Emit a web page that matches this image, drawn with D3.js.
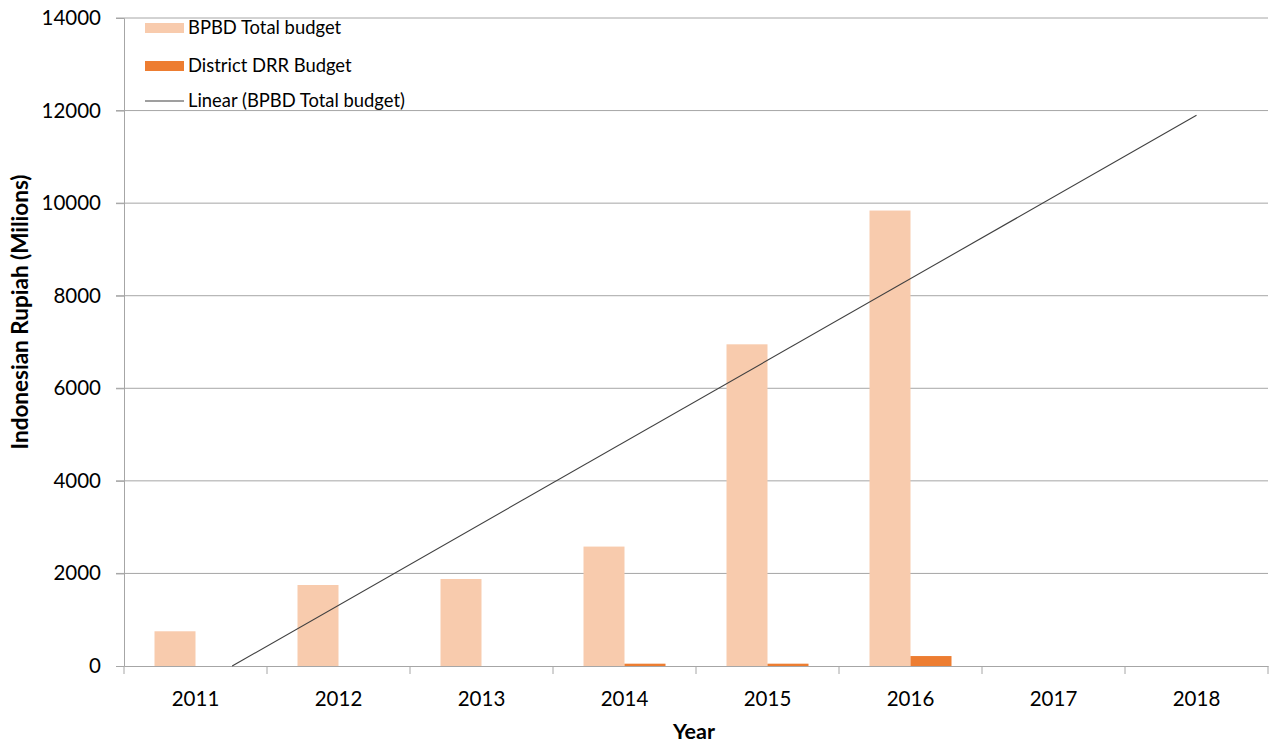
<!DOCTYPE html>
<html><head><meta charset="utf-8">
<script src="https://cdn.jsdelivr.net/npm/d3@7"></script>
<style>body{margin:0;background:#fff}svg{display:block}</style>
</head><body>
<svg id="c" width="1271" height="744"></svg>
<script>
const years = ["2011","2012","2013","2014","2015","2016","2017","2018"];
const bpbdTotal = [750, 1750, 1880, 2580, 6950, 9840, null, null];
const districtDRR = [null, null, null, 50, 50, 215, null, null];
const yTicks = [0, 2000, 4000, 6000, 8000, 10000, 12000, 14000];
const legendLabels = ["BPBD Total budget", "District DRR Budget", "Linear (BPBD Total budget)"];

const svg = d3.select("#c");
const font = "Lato, 'Open Sans', sans-serif";
const L = 124, R = 1268, T = 18, B = 666;
const x = d3.scaleBand().domain(years).range([L, R]);
const y = d3.scaleLinear().domain([0, 14000]).range([B, T]);
const bw = 41;

// gridlines
svg.append("g").selectAll("line").data(yTicks.filter(d => d > 0)).join("line")
  .attr("x1", L - 8).attr("x2", R).attr("y1", d => y(d)).attr("y2", d => y(d))
  .attr("stroke", "#a6a6a6").attr("stroke-width", 1);

// y axis
const ya = svg.append("g").attr("transform", `translate(${L},0)`)
  .call(d3.axisLeft(y).tickValues(yTicks).tickSize(8).tickPadding(15).tickFormat(d3.format("d")));
ya.selectAll("path,line").attr("stroke", "#a6a6a6");
ya.selectAll("text").attr("font-family", font).attr("font-size", 20.5).attr("fill", "#000");

// bars
svg.append("g").selectAll("rect").data(years.map((yr, i) => ({yr, v: bpbdTotal[i]})).filter(d => d.v != null)).join("rect")
  .attr("x", d => x(d.yr) + x.bandwidth() / 2 - bw).attr("width", bw)
  .attr("y", d => y(d.v)).attr("height", d => B - y(d.v)).attr("fill", "#F8CBAD");
svg.append("g").selectAll("rect").data(years.map((yr, i) => ({yr, v: districtDRR[i]})).filter(d => d.v != null)).join("rect")
  .attr("x", d => x(d.yr) + x.bandwidth() / 2).attr("width", bw)
  .attr("y", d => y(d.v)).attr("height", d => B - y(d.v)).attr("fill", "#ED7D31");

// x axis
const xa = svg.append("g").attr("transform", `translate(0,${B})`)
  .call(d3.axisBottom(x).tickSize(0).tickPadding(25));
xa.select("path").attr("stroke", "#a6a6a6");
xa.selectAll("text").attr("font-family", font).attr("font-size", 20.5).attr("fill", "#000");
svg.append("g").selectAll("line").data(d3.range(years.length + 1)).join("line")
  .attr("x1", i => L + i * x.step()).attr("x2", i => L + i * x.step())
  .attr("y1", B).attr("y2", B + 8).attr("stroke", "#a6a6a6");

// linear trendline (least squares on BPBD total budget, forecast to 2018)
const pts = bpbdTotal.map((v, i) => [i + 1, v]).filter(p => p[1] != null);
const mx = d3.mean(pts, p => p[0]), my = d3.mean(pts, p => p[1]);
const slope = d3.sum(pts, p => (p[0] - mx) * (p[1] - my)) / d3.sum(pts, p => (p[0] - mx) ** 2);
const icpt = my - slope * mx;
const xi = i => x(years[0]) + x.bandwidth() / 2 + (i - 1) * x.step();
const x0 = Math.max(1, -icpt / slope), x1 = years.length;
svg.append("line").attr("x1", xi(x0)).attr("y1", y(icpt + slope * x0))
  .attr("x2", xi(x1)).attr("y2", y(icpt + slope * x1))
  .attr("stroke", "#404040").attr("stroke-width", 1.1);

// legend
const lg = svg.append("g");
const ly = [28, 66, 101];
lg.append("rect").attr("x", 145).attr("y", ly[0] - 5).attr("width", 39).attr("height", 10).attr("fill", "#F8CBAD");
lg.append("rect").attr("x", 145).attr("y", ly[1] - 5).attr("width", 39).attr("height", 10).attr("fill", "#ED7D31");
lg.append("line").attr("x1", 145).attr("x2", 184).attr("y1", ly[2]).attr("y2", ly[2]).attr("stroke", "#404040").attr("stroke-width", 1.1);
lg.selectAll("text").data(legendLabels).join("text")
  .attr("x", 188).attr("y", (d, i) => ly[i]).attr("dy", "0.35em")
  .attr("font-family", font).attr("font-size", 18.4).attr("fill", "#000").text(d => d);

// axis titles
svg.append("text").attr("x", 694).attr("y", 731).attr("dy", "0.35em").attr("text-anchor", "middle")
  .attr("font-family", font).attr("font-size", 21.5).attr("font-weight", "bold").text("Year");
svg.append("text").attr("transform", `translate(20,312) rotate(-90)`).attr("dy", "0.35em").attr("text-anchor", "middle")
  .attr("font-family", font).attr("font-size", 22.5).attr("font-weight", "bold").text("Indonesian Rupiah (Milions)");
</script>
</body></html>
